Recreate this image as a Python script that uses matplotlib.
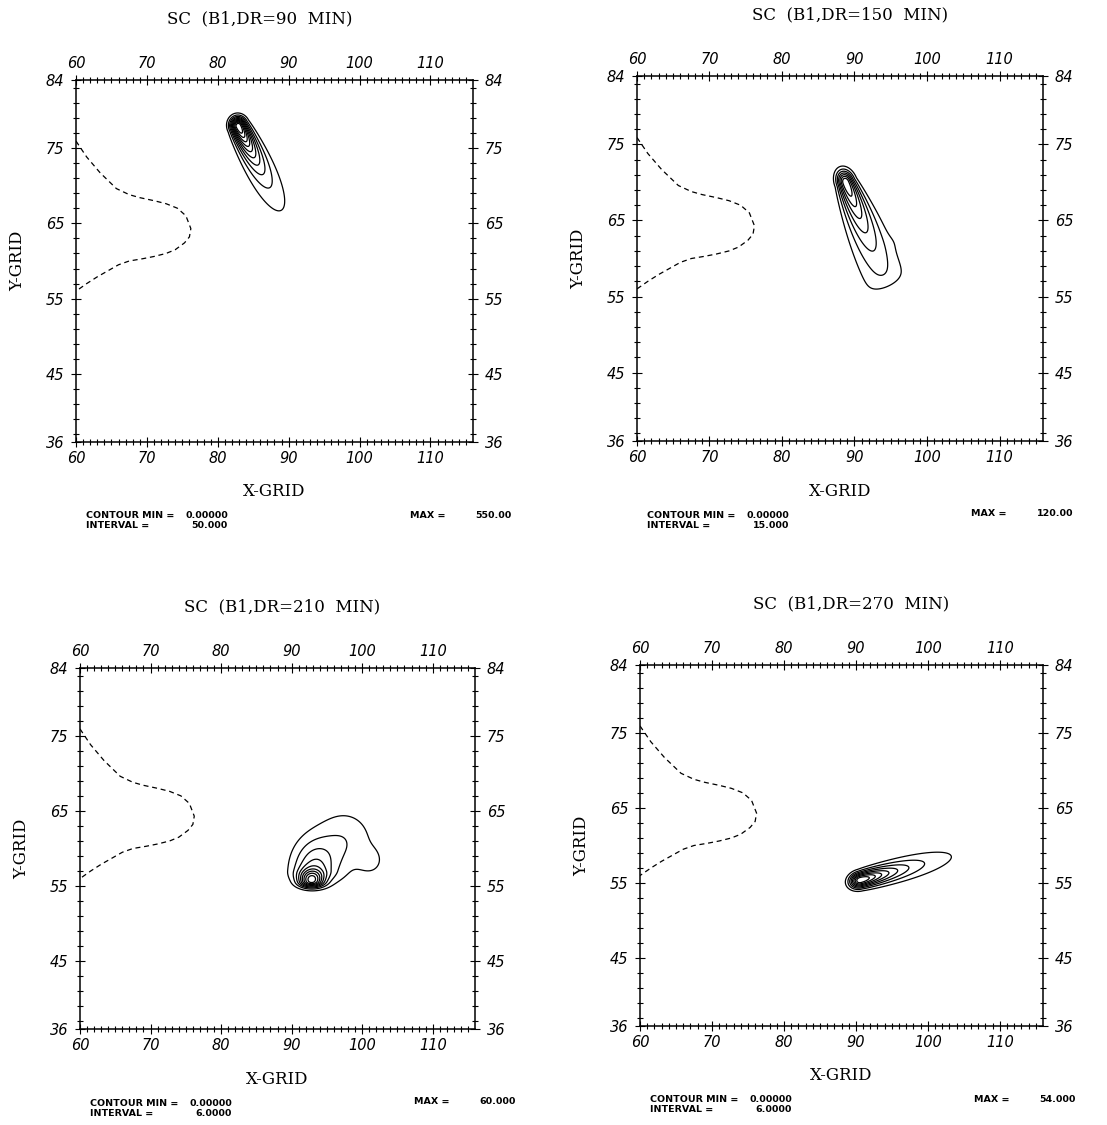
import numpy as np
import matplotlib.pyplot as plt

W, H = 1107, 1125

titles = ['SC  (B1,DR=90  MIN)', 'SC  (B1,DR=150  MIN)',
          'SC  (B1,DR=210  MIN)', 'SC  (B1,DR=270  MIN)']
max_vals = [550.0, 120.0, 60.0, 54.0]
intervals = [50.0, 15.0, 6.0, 6.0]
max_txt = ['550.00', '120.00', '60.000', '54.000']
int_txt = ['50.000', '15.000', '6.0000', '6.0000']

x_ticks = [60, 70, 80, 90, 100, 110]
y_ticks = [36, 45, 55, 65, 75, 84]

# dashed coast line (grid units)
coast_x = [60.0, 61.5, 63.4, 65.7, 67.5, 69.0, 71.0, 72.7, 74.3, 75.5, 76.2,
           76.0, 75.3, 74.0, 72.7, 71.0, 69.4, 67.5, 66.0, 64.5, 63.0, 61.5, 60.0]
coast_y = [75.9, 73.8, 71.7, 69.6, 68.8, 68.4, 68.0, 67.6, 67.0, 66.0, 64.3,
           63.2, 62.4, 61.5, 61.0, 60.6, 60.3, 60.0, 59.5, 58.7, 57.9, 57.0, 56.0]

# plume: head x, head y, direction (deg), amplitude, head spread,
#        decay length, width, width growth, tail end
plumes = [
    (82.9, 77.9, -61.5, 550.0, 0.8, 4.9, 0.75, 0.08, 99.0),
    (88.8, 70.0, -67.0, 120.0, 1.1, 9.0, 0.78, 0.11, 15.0),
    None,
    (90.6, 55.4, 14.0, 54.0, 1.0, 5.5, 0.70, 0.05, 99.0),
]
# extra blobs: x, y, amplitude, sigma x, sigma up, sigma down
blobs = [
    [],
    [(96.0, 62.5, 4.0, 0.9, 0.9, 0.9)],
    [(92.8, 55.6, 44.0, 1.2, 1.0, 0.55), (93.2, 57.0, 24.0, 2.2, 2.8, 1.2),
     (97.5, 61.0, 11.0, 3.0, 3.0, 3.0), (101.3, 58.3, 6.0, 1.3, 1.3, 1.3)],
    [],
]

# axes boxes in pixels: left, top, right, bottom
boxes = [(76, 80, 473, 442), (637, 76, 1043, 441),
         (80, 668, 475, 1029), (640, 665, 1043, 1026)]
title_dx = [-15, 10, 5, 10]


def field(X, Y, plume, blob_list):
    Z = np.zeros_like(X)
    if plume is not None:
        x0, y0, ang, A, h, L, w0, wk, s_end = plume
        ux, uy = np.cos(np.radians(ang)), np.sin(np.radians(ang))
        s = (X - x0) * ux + (Y - y0) * uy
        n = -(X - x0) * uy + (Y - y0) * ux
        along = np.where(s < 0, np.exp(-s ** 2 / (2 * h ** 2)),
                         np.exp(-(np.sqrt(s ** 2 + 1.0) - 1.0) / L))
        along = along / (1 + np.exp((s - s_end) / 0.5))
        w = w0 + wk * np.clip(s, 0, None)
        Z += A * along * np.exp(-n ** 2 / (2 * w ** 2))
    for bx, by, a, sx, su, sd in blob_list:
        sy = np.where(Y >= by, su, sd)
        Z += a * np.exp(-((X - bx) ** 2 / (2 * sx ** 2) + (Y - by) ** 2 / (2 * sy ** 2)))
    return Z


gx = np.linspace(60, 116, 561)
gy = np.linspace(36, 84, 481)
X, Y = np.meshgrid(gx, gy)

fig = plt.figure(figsize=(W / 100, H / 100), dpi=100)
serif = 'DejaVu Serif'

for i in range(4):
    l, t, r, b = boxes[i]
    ax = fig.add_axes([l / W, 1 - b / H, (r - l) / W, (b - t) / H])
    Z = field(X, Y, plumes[i], blobs[i])
    levels = np.arange(intervals[i], max_vals[i] - 1e-6, intervals[i])
    ax.contour(X, Y, Z, levels=levels, colors='black', linewidths=0.9)
    ax.plot(coast_x, coast_y, color='black', lw=0.9, linestyle=(0, (4, 3)))

    ax.set_xlim(60, 116)
    ax.set_ylim(36, 84)
    ax.set_xticks(x_ticks)
    ax.set_yticks(y_ticks)
    ax.set_xticks(range(61, 116), minor=True)
    ax.set_yticks(range(37, 84, 2), minor=True)
    ax.tick_params(which='both', top=True, right=True, labeltop=True,
                   labelright=True, direction='inout', width=0.8)
    ax.tick_params(which='major', length=7, labelsize=10.5)
    ax.tick_params(axis='x', which='major', pad=3)
    ax.tick_params(axis='y', which='major', pad=5)
    ax.tick_params(which='minor', length=4)
    for tk in ax.xaxis.get_major_ticks() + ax.yaxis.get_major_ticks():
        for lab in (tk.label1, tk.label2):
            lab.set_fontstyle('italic')
            lab.set_fontfamily('DejaVu Sans')
    for sp in ax.spines.values():
        sp.set_linewidth(1.1)

    cx = (l + r) / 2
    fig.text((cx + title_dx[i]) / W, 1 - (t - 61) / H, titles[i], ha='center',
             va='center', fontsize=12, family=serif)
    fig.text(cx / W, 1 - (b + 50) / H, 'X-GRID', ha='center', va='center',
             fontsize=12, family=serif)
    fig.text((l - 58) / W, 1 - (t + b) / 2 / H, 'Y-GRID', ha='center',
             va='center', rotation=90, fontsize=12, family=serif)

    fy = b + 74
    fs = 6.8
    fig.text((l + 10) / W, 1 - fy / H, 'CONTOUR MIN =', ha='left', va='center',
             fontsize=fs, weight='bold')
    fig.text((l + 10) / W, 1 - (fy + 10) / H, 'INTERVAL =', ha='left', va='center',
             fontsize=fs, weight='bold')
    fig.text((l + 152) / W, 1 - fy / H, '0.00000', ha='right', va='center',
             fontsize=fs, weight='bold')
    fig.text((l + 152) / W, 1 - (fy + 10) / H, int_txt[i], ha='right', va='center',
             fontsize=fs, weight='bold')
    fig.text((l + 334) / W, 1 - (fy - 1) / H, 'MAX =', ha='left', va='center',
             fontsize=fs, weight='bold')
    fig.text((l + 436) / W, 1 - (fy - 1) / H, max_txt[i], ha='right', va='center',
             fontsize=fs, weight='bold')

fig.savefig('out.png', dpi=100)
